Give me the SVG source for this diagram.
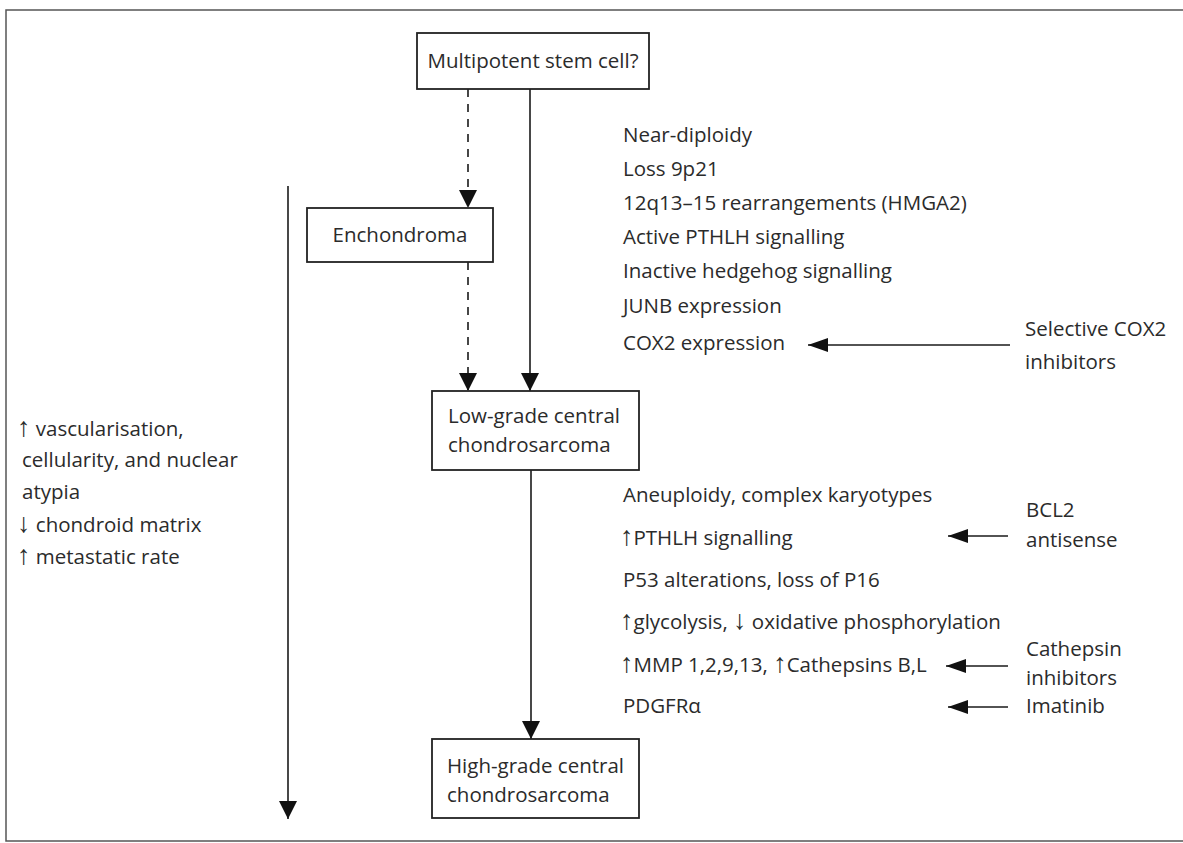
<svg xmlns="http://www.w3.org/2000/svg" width="1183" height="843" viewBox="0 0 1183 843">
<style>
.t{font-family:"Open Sans","Noto Sans","DejaVu Sans",sans-serif;font-size:20.5px;fill:#2b2b2b}
.ar{font-family:"Liberation Sans","DejaVu Sans",sans-serif;font-size:27px}
.box{fill:#fff;stroke:#222;stroke-width:1.8}
.ln{stroke:#1a1a1a;stroke-width:1.6;fill:none}
.dash{stroke-dasharray:8 7}
.frame{stroke:#555;stroke-width:1.5;fill:none}
</style>
<defs>
<marker id="hv" markerUnits="userSpaceOnUse" markerWidth="18" markerHeight="18" refX="18" refY="9" orient="auto">
<path d="M0,0 L18,9 L0,18 z" fill="#111"/>
</marker>
<marker id="hh" markerUnits="userSpaceOnUse" markerWidth="20" markerHeight="14" refX="20" refY="7" orient="auto">
<path d="M0,0 L20,7 L0,14 z" fill="#111"/>
</marker>
</defs>
<rect width="1183" height="843" fill="#fff"/>
<path class="frame" d="M1183,10 H6 V841 H1183"/>

<g id="connectors">
<path class="ln dash" d="M468,89 V208" marker-end="url(#hv)"/>
<path class="ln dash" d="M468,262 V391" marker-end="url(#hv)"/>
<path class="ln" d="M530,89 V391" marker-end="url(#hv)"/>
<path class="ln" d="M531,470 V739" marker-end="url(#hv)"/>
<path class="ln" d="M288,186 V819" marker-end="url(#hv)"/>
<path class="ln" d="M1010,345 H808" marker-end="url(#hh)"/>
<path class="ln" d="M1008,536 H948" marker-end="url(#hh)"/>
<path class="ln" d="M1008,666 H946" marker-end="url(#hh)"/>
<path class="ln" d="M1008,707 H948" marker-end="url(#hh)"/>
</g>

<g id="n-stem">
<rect class="box" x="417" y="33" width="232" height="56"/>
<text class="t" x="533" y="68" text-anchor="middle">Multipotent stem cell?</text>
</g>
<g id="n-ench">
<rect class="box" x="307" y="208" width="186" height="54"/>
<text class="t" x="400" y="242" text-anchor="middle">Enchondroma</text>
</g>
<g id="n-low">
<rect class="box" x="432" y="391" width="207" height="79"/>
<text class="t" x="448" y="423">Low-grade central</text>
<text class="t" x="448" y="452">chondrosarcoma</text>
</g>
<g id="n-high">
<rect class="box" x="432" y="739" width="207" height="79"/>
<text class="t" x="447" y="773">High-grade central</text>
<text class="t" x="447" y="802">chondrosarcoma</text>
</g>

<g id="early-changes">
<text class="t" x="623" y="142">Near-diploidy</text>
<text class="t" x="623" y="176">Loss 9p21</text>
<text class="t" x="623" y="210">12q13–15 rearrangements (HMGA2)</text>
<text class="t" x="623" y="244">Active PTHLH signalling</text>
<text class="t" x="623" y="278">Inactive hedgehog signalling</text>
<text class="t" x="623" y="313">JUNB expression</text>
<text class="t" x="623" y="350">COX2 expression</text>
</g>

<g id="late-changes">
<text class="t" x="623" y="502">Aneuploidy, complex karyotypes</text>
<text class="t" x="620" y="545"><tspan class="ar">↑</tspan>PTHLH signalling</text>
<text class="t" x="623" y="587">P53 alterations, loss of P16</text>
<text class="t" x="620" y="629"><tspan class="ar">↑</tspan>glycolysis, <tspan class="ar">↓</tspan> oxidative phosphorylation</text>
<text class="t" x="620" y="672"><tspan class="ar">↑</tspan>MMP 1,2,9,13, <tspan class="ar">↑</tspan>Cathepsins B,L</text>
<text class="t" x="623" y="713">PDGFRα</text>
</g>

<g id="therapies">
<text class="t" x="1025" y="336">Selective COX2</text>
<text class="t" x="1025" y="369">inhibitors</text>
<text class="t" x="1026" y="517">BCL2</text>
<text class="t" x="1026" y="547">antisense</text>
<text class="t" x="1026" y="656">Cathepsin</text>
<text class="t" x="1026" y="685">inhibitors</text>
<text class="t" x="1026" y="713">Imatinib</text>
</g>

<g id="progression">
<text class="t" x="17" y="436"><tspan class="ar">↑</tspan> vascularisation,</text>
<text class="t" x="22" y="467">cellularity, and nuclear</text>
<text class="t" x="22" y="499">atypia</text>
<text class="t" x="17" y="532"><tspan class="ar">↓</tspan> chondroid matrix</text>
<text class="t" x="17" y="564"><tspan class="ar">↑</tspan> metastatic rate</text>
</g>
</svg>
